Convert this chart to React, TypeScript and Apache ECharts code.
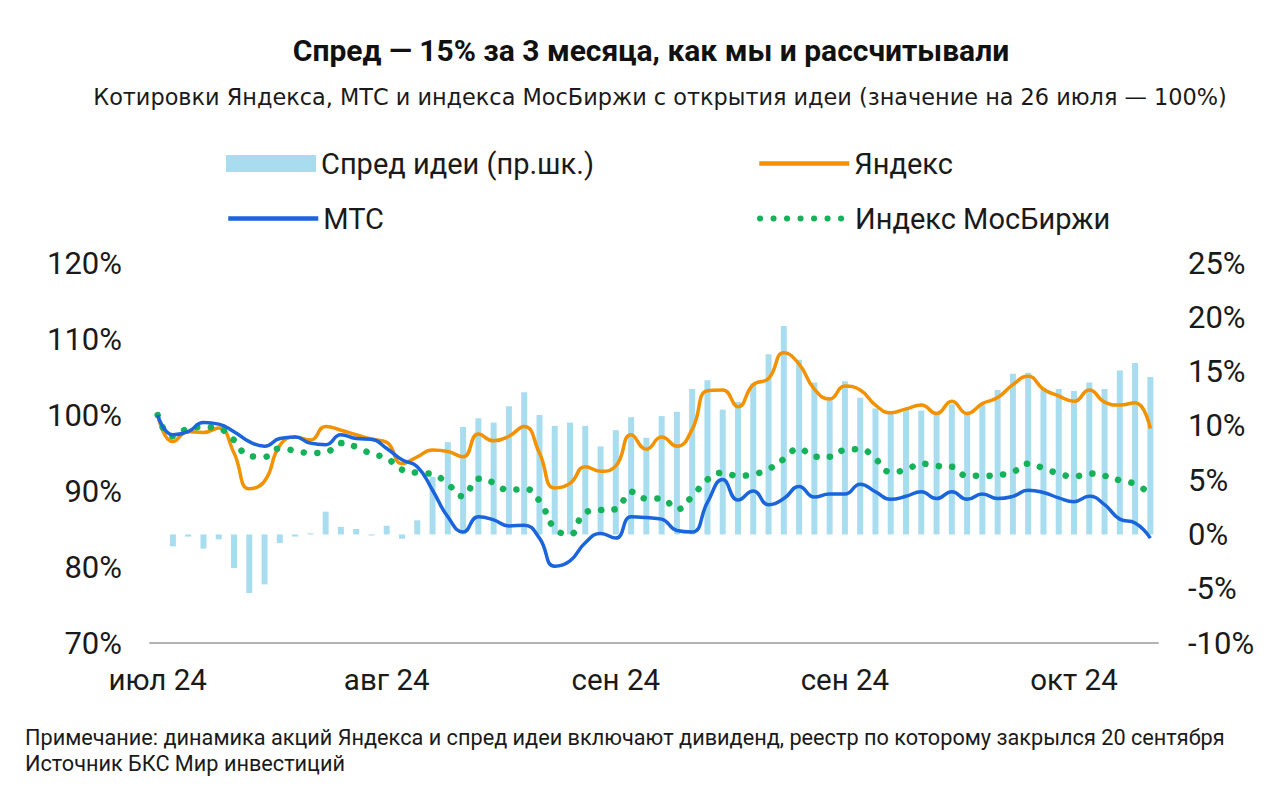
import React, { useEffect, useRef } from "react";
import * as echarts from "echarts";

const dates = [
  "2024-07-26", "2024-07-29", "2024-07-30", "2024-07-31",
  "2024-08-01", "2024-08-02", "2024-08-05", "2024-08-06", "2024-08-07", "2024-08-08", "2024-08-09",
  "2024-08-12", "2024-08-13", "2024-08-14", "2024-08-15", "2024-08-16", "2024-08-19", "2024-08-20",
  "2024-08-21", "2024-08-22", "2024-08-23", "2024-08-26", "2024-08-27", "2024-08-28", "2024-08-29", "2024-08-30",
  "2024-09-02", "2024-09-03", "2024-09-04", "2024-09-05", "2024-09-06", "2024-09-09", "2024-09-10",
  "2024-09-11", "2024-09-12", "2024-09-13", "2024-09-16", "2024-09-17", "2024-09-18", "2024-09-19",
  "2024-09-20", "2024-09-23", "2024-09-24", "2024-09-25", "2024-09-26", "2024-09-27", "2024-09-30",
  "2024-10-01", "2024-10-02", "2024-10-03", "2024-10-04", "2024-10-07", "2024-10-08", "2024-10-09",
  "2024-10-10", "2024-10-11", "2024-10-14", "2024-10-15", "2024-10-16", "2024-10-17", "2024-10-18",
  "2024-10-21", "2024-10-22", "2024-10-23", "2024-10-24", "2024-10-25",
];

const monthLabels: Record<string, string> = { "07": "июл", "08": "авг", "09": "сен", "10": "окт" };

// Spread of the idea, % (right axis)
const spread = [
  0, -1.1, -0.2, -1.3, -0.45, -3.1, -5.4, -4.6, -0.8, -0.2,
  0.1, 2.1, 0.7, 0.5, -0.1, 0.8, -0.4, 1.3, 5.3, 8.5,
  9.9, 10.7, 10.3, 11.8, 13.1, 11.0, 10.0, 10.3, 10.0, 8.1,
  9.6, 10.8, 8.9, 10.9, 11.3, 13.4, 14.2, 11.5, 12.2, 13.9,
  16.6, 19.2, 16.1, 14.0, 12.4, 14.1, 12.6, 11.6, 11.2, 11.5,
  11.4, 11.2, 12.0, 11.2, 11.9, 13.3, 14.8, 14.9, 13.5, 13.4,
  13.2, 14.0, 13.4, 15.1, 15.8, 14.5,
];

// Yandex, % of 26 July level
const yandex = [
  100, 96.5, 97.8, 97.7, 98.3, 95.0, 90.3, 91.3, 96.0, 97.1,
  96.7, 98.5, 98.0, 97.4, 96.8, 96.4, 93.6, 94.5, 95.4, 95.2,
  94.5, 97.5, 96.6, 97.2, 98.5, 95.0, 90.4, 91.0, 93.2, 92.6,
  93.3, 97.4, 95.5, 97.1, 95.9, 98.1, 103.2, 103.3, 101.1, 104.0,
  104.8, 108.2, 106.7, 103.4, 102.1, 103.8, 103.3, 101.3, 100.3, 100.8,
  101.3, 100.2, 101.8, 100.2, 101.5, 102.3, 104.0, 105.1, 103.4, 102.5,
  101.8, 103.3, 101.7, 101.3, 101.6, 98.2,
];

// MTS, % of 26 July level
const mts = [
  100, 97.4, 97.8, 99.0, 98.8, 97.8, 96.5, 95.9, 96.9, 97.1,
  96.3, 96.1, 97.4, 96.9, 96.8, 95.6, 94.1, 93.2, 90.1, 86.6,
  84.6, 86.6, 86.2, 85.4, 85.5, 83.8, 80.1, 80.8, 83.2, 84.4,
  83.8, 86.6, 86.5, 86.3, 84.8, 84.6, 88.5, 91.5, 88.8, 90.0,
  88.2, 89.0, 90.6, 89.2, 89.6, 89.6, 90.9, 89.9, 88.9, 89.3,
  89.9, 89.0, 89.9, 88.9, 89.6, 89.0, 89.3, 90.1, 89.8, 89.1,
  88.6, 89.3, 88.2, 86.3, 85.8, 83.8,
];

// MOEX index, % of 26 July level
const moex = [
  100, 97.2, 98.2, 98.4, 98.2, 96.7, 94.6, 94.5, 95.6, 95.3,
  95.0, 95.1, 96.3, 95.8, 94.9, 94.3, 92.8, 92.4, 92.2, 90.9,
  89.3, 91.6, 91.1, 90.1, 90.3, 88.7, 85.1, 84.3, 87.2, 87.5,
  87.6, 89.9, 89.0, 89.0, 87.6, 89.3, 91.5, 92.4, 92.0, 92.2,
  92.9, 94.2, 95.6, 94.5, 94.5, 95.4, 95.5, 94.2, 92.5, 92.8,
  93.6, 93.3, 93.2, 92.0, 92.0, 92.1, 92.5, 93.6, 93.0, 92.3,
  91.9, 92.3, 92.0, 91.4, 90.9, 89.6,
];

const titleText = "Спред — 15% за 3 месяца, как мы и рассчитывали";
const subtitleText =
  "Котировки Яндекса, МТС и индекса МосБиржи с открытия идеи (значение на 26 июля — 100%)";
const noteText =
  "Примечание: динамика акций Яндекса и спред идеи включают дивиденд, реестр по которому закрылся 20 сентября";
const sourceText = "Источник БКС Мир инвестиций";

const FONT = "Roboto, 'Noto Sans', sans-serif";
const WIDE_FONT = "'DejaVu Sans', 'Noto Sans', sans-serif";
const TEXT = "#1a1a1a";
const C_BAR = "#A8DDF0";
const C_YNDX = "#F39200";
const C_MTS = "#1A64DC";
const C_MOEX = "#15B25A";

export default function App() {
  const ref = useRef<HTMLDivElement>(null);

  useEffect(() => {
    const chart = echarts.init(ref.current as HTMLDivElement, null, { renderer: "svg" });
    const legendText = { fontSize: 29, fontFamily: FONT, color: TEXT };
    const legendBase = {
      padding: 0,
      selectedMode: false,
      itemGap: 0,
      textStyle: legendText,
    };
    const lineLegend = { ...legendBase, itemWidth: 90, itemHeight: 26, itemStyle: { opacity: 0 } };
    const option = {
      animation: false,
      backgroundColor: "#ffffff",
      graphic: [
        {
          type: "text",
          x: 651,
          y: 50,
          style: {
            text: titleText,
            fill: "#111",
            font: `bold 30px ${FONT}`,
            textAlign: "center",
            textVerticalAlign: "middle",
          },
        },
        {
          type: "text",
          x: 660,
          y: 97,
          style: {
            text: subtitleText,
            fill: TEXT,
            font: `22.4px ${WIDE_FONT}`,
            textAlign: "center",
            textVerticalAlign: "middle",
          },
        },
        {
          type: "text",
          x: 25,
          y: 737,
          style: {
            text: noteText,
            fill: TEXT,
            font: `21.7px ${FONT}`,
            textAlign: "left",
            textVerticalAlign: "middle",
          },
        },
        {
          type: "text",
          x: 25,
          y: 763,
          style: {
            text: sourceText,
            fill: TEXT,
            font: `21.7px ${FONT}`,
            textAlign: "left",
            textVerticalAlign: "middle",
          },
        },
      ],
      legend: [
        { ...legendBase, data: ["Спред идеи (пр.шк.)"], left: 226, top: 149, itemWidth: 90, itemHeight: 17, icon: "rect" },
        { ...lineLegend, data: ["Яндекс"], left: 757, top: 149, lineStyle: { width: 4.5 } },
        { ...lineLegend, data: ["МТС"], left: 226, top: 204, lineStyle: { width: 4.5 } },
        {
          ...lineLegend,
          data: ["Индекс МосБиржи"],
          left: 757,
          top: 204,
          lineStyle: { width: 6, type: [0.1, 13.4], cap: "round" },
        },
      ],
      grid: { left: 150, right: 122, top: 263, bottom: 151, containLabel: false },
      xAxis: {
        type: "category",
        data: dates,
        boundaryGap: true,
        axisLine: { show: true, onZero: false, lineStyle: { color: "#b4b4b4", width: 2 } },
        axisTick: { show: false },
        splitLine: { show: false },
        axisLabel: {
          interval: 14,
          margin: 22,
          fontSize: 29.5,
          fontFamily: FONT,
          color: TEXT,
          formatter: (v: string) => `${monthLabels[v.slice(5, 7)]} ${v.slice(2, 4)}`,
        },
      },
      yAxis: [
        {
          type: "value",
          min: 70,
          max: 120,
          interval: 10,
          axisLine: { show: false },
          axisTick: { show: false },
          splitLine: { show: false },
          axisLabel: { formatter: "{value}%", margin: 28, fontSize: 31, fontFamily: FONT, color: TEXT },
        },
        {
          type: "value",
          min: -10,
          max: 25,
          interval: 5,
          position: "right",
          axisLine: { show: false },
          axisTick: { show: false },
          splitLine: { show: false },
          axisLabel: { formatter: "{value}%", margin: 30, fontSize: 31, fontFamily: FONT, color: TEXT },
        },
      ],
      series: [
        {
          name: "Спред идеи (пр.шк.)",
          type: "bar",
          yAxisIndex: 1,
          data: spread,
          barWidth: 6,
          itemStyle: { color: C_BAR },
          z: 1,
        },
        {
          name: "Яндекс",
          type: "line",
          yAxisIndex: 0,
          data: yandex,
          smooth: 0.5,
          symbol: "none",
          lineStyle: { color: C_YNDX, width: 3.5 },
          itemStyle: { color: C_YNDX },
          z: 3,
        },
        {
          name: "Индекс МосБиржи",
          type: "line",
          yAxisIndex: 0,
          data: moex,
          smooth: 0.5,
          symbol: "none",
          lineStyle: { color: C_MOEX, width: 6.5, type: [0.1, 13.4], cap: "round" },
          itemStyle: { color: C_MOEX },
          z: 4,
        },
        {
          name: "МТС",
          type: "line",
          yAxisIndex: 0,
          data: mts,
          smooth: 0.5,
          symbol: "none",
          lineStyle: { color: C_MTS, width: 3.5 },
          itemStyle: { color: C_MTS },
          z: 5,
        },
      ],
    };
    chart.setOption(option as any);
    return () => chart.dispose();
  }, []);

  return (
    <div
      ref={ref}
      style={{ position: "fixed", left: 0, top: 0, width: 1280, height: 794, background: "#ffffff" }}
    />
  );
}
